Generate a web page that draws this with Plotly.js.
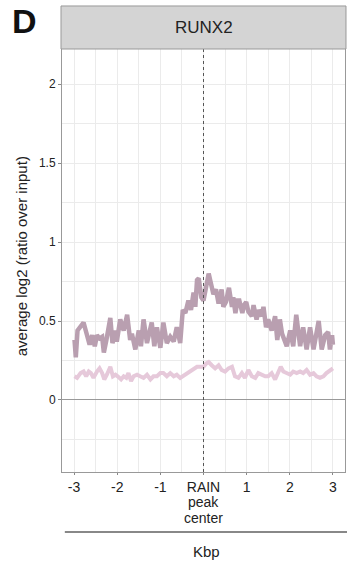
<!DOCTYPE html>
<html><head><meta charset="utf-8">
<script src="https://cdn.plot.ly/plotly-3.0.1.min.js"></script>
<style>html,body{margin:0;padding:0;background:#fff}#c{width:347px;height:563px}</style>
</head><body><div id="c"></div>
<script>
const darkX = [-2.99,-2.96,-2.92,-2.85,-2.78,-2.73,-2.69,-2.64,-2.58,-2.52,-2.47,-2.41,-2.35,-2.31,-2.25,-2.20,-2.16,-2.11,-2.04,-2.01,-1.93,-1.85,-1.77,-1.70,-1.66,-1.58,-1.50,-1.45,-1.39,-1.31,-1.25,-1.20,-1.14,-1.08,-1.00,-0.93,-0.85,-0.77,-0.69,-0.62,-0.54,-0.48,-0.42,-0.35,-0.29,-0.23,-0.19,-0.15,-0.11,-0.05,0.00,0.06,0.12,0.17,0.23,0.29,0.35,0.42,0.46,0.52,0.59,0.66,0.69,0.74,0.79,0.83,0.90,0.94,0.99,1.04,1.12,1.16,1.23,1.28,1.35,1.39,1.45,1.50,1.58,1.66,1.71,1.77,1.82,1.93,2.01,2.08,2.15,2.24,2.31,2.39,2.47,2.55,2.62,2.67,2.74,2.82,2.89,2.93,2.98,3.00];
const darkY = [0.38,0.27,0.44,0.46,0.49,0.44,0.40,0.35,0.41,0.34,0.41,0.39,0.40,0.30,0.38,0.44,0.52,0.36,0.44,0.37,0.51,0.44,0.54,0.38,0.42,0.32,0.44,0.34,0.51,0.36,0.44,0.49,0.34,0.46,0.33,0.49,0.36,0.40,0.37,0.46,0.36,0.57,0.55,0.63,0.57,0.68,0.59,0.76,0.77,0.65,0.63,0.72,0.80,0.74,0.67,0.70,0.61,0.70,0.59,0.62,0.71,0.59,0.65,0.55,0.63,0.63,0.55,0.60,0.62,0.56,0.53,0.60,0.51,0.57,0.53,0.59,0.46,0.51,0.44,0.53,0.38,0.51,0.42,0.34,0.44,0.34,0.54,0.34,0.46,0.32,0.46,0.32,0.41,0.50,0.32,0.41,0.43,0.32,0.41,0.35];
const lightX = [-2.99,-2.93,-2.85,-2.78,-2.72,-2.66,-2.61,-2.55,-2.47,-2.41,-2.35,-2.30,-2.24,-2.16,-2.10,-2.04,-1.99,-1.91,-1.85,-1.79,-1.74,-1.68,-1.62,-1.54,-1.47,-1.39,-1.31,-1.23,-1.16,-1.08,-1.00,-0.93,-0.85,-0.77,-0.69,-0.62,-0.54,-0.48,-0.39,-0.31,-0.23,-0.15,-0.08,0.00,0.06,0.12,0.19,0.27,0.35,0.42,0.50,0.58,0.66,0.73,0.81,0.89,0.96,1.04,1.12,1.20,1.27,1.35,1.43,1.50,1.58,1.66,1.74,1.79,1.85,1.93,2.01,2.08,2.16,2.24,2.31,2.39,2.47,2.55,2.62,2.70,2.78,2.85,2.93,3.00];
const lightY = [0.15,0.14,0.17,0.18,0.15,0.18,0.17,0.14,0.18,0.20,0.17,0.13,0.16,0.21,0.15,0.16,0.15,0.13,0.15,0.14,0.17,0.12,0.15,0.16,0.15,0.14,0.16,0.13,0.15,0.15,0.17,0.17,0.15,0.17,0.15,0.16,0.14,0.15,0.17,0.18,0.19,0.21,0.21,0.21,0.23,0.24,0.22,0.20,0.22,0.19,0.18,0.20,0.21,0.15,0.14,0.17,0.14,0.19,0.15,0.14,0.17,0.16,0.15,0.15,0.17,0.13,0.19,0.21,0.18,0.17,0.16,0.18,0.17,0.18,0.17,0.19,0.16,0.17,0.15,0.14,0.15,0.17,0.19,0.20];
const xTickVals = [-3,-2,-1,0,1,2,3];
const xTickText = ['-3','-2','-1','RAIN','1','2','3'];
const centerLabelLines = ['peak','center'];
const yTickVals = [0,0.5,1,1.5,2];
const yTickText = ['0','0.5','1','1.5','2'];

const F = 'Liberation Sans, Arial, sans-serif';
const grid = '#ebebeb';
const traces = [
  {x: lightX, y: lightY, mode:'lines', line:{color:'#e6c9da', width:4}, hoverinfo:'skip'},
  {x: darkX, y: darkY, mode:'lines', line:{color:'#b99fb0', width:4.5}, hoverinfo:'skip'}
];
const layout = {
  width:347, height:563, showlegend:false,
  paper_bgcolor:'#fff', plot_bgcolor:'#fff',
  margin:{l:62, r:2, t:49, b:91},
  font:{family:F, color:'#333'},
  xaxis:{range:[-3.28,3.28], tickvals:xTickVals, ticktext:xTickText, ticks:'outside', ticklen:2, tickcolor:'#888',
    tickfont:{size:14, color:'#222', family:F}, showgrid:true, gridcolor:grid, gridwidth:1, zeroline:false,
    showline:true, linecolor:'#999', linewidth:1, mirror:true,
    minor:{tickvals:[-2.5,-1.5,-0.5,0.5,1.5,2.5], showgrid:true, gridcolor:grid, gridwidth:1}},
  yaxis:{range:[-0.456,2.222], tickvals:yTickVals, ticktext:yTickText, ticks:'outside', ticklen:3, tickcolor:'#888',
    tickfont:{size:12, color:'#222', family:F}, showgrid:true, gridcolor:grid, gridwidth:1,
    zeroline:true, zerolinecolor:'#999', zerolinewidth:1,
    showline:true, linecolor:'#999', linewidth:1, mirror:true,
    minor:{tickvals:[-0.25,0.25,0.75,1.25,1.75], showgrid:true, gridcolor:grid, gridwidth:1}},
  shapes:[
    {type:'line', xref:'x', yref:'paper', x0:0, x1:0, y0:0, y1:1, line:{color:'#555', width:1, dash:'dot'}},
    {type:'rect', xref:'paper', yref:'paper', x0:-0.0035, x1:1.0035, y0:1, y1:1.1017, fillcolor:'#d4d4d4', line:{color:'#999', width:1}},
    {type:'line', xref:'paper', yref:'paper', x0:0.01, x1:1.01, y0:-0.1418, y1:-0.1418, line:{color:'#888', width:2}}
  ],
  annotations:[
    {text:centerLabelLines[0], xref:'x', yref:'paper', x:0, y:-0.0709, showarrow:false, xanchor:'center', yanchor:'middle', font:{size:14, color:'#222', family:F}},
    {text:centerLabelLines[1], xref:'x', yref:'paper', x:0, y:-0.1087, showarrow:false, xanchor:'center', yanchor:'middle', font:{size:14, color:'#222', family:F}},
    {text:'RUNX2', xref:'paper', yref:'paper', x:0.5, y:1.0508, showarrow:false, xanchor:'center', yanchor:'middle', font:{size:17, color:'#222', family:F}},
    {text:'average log2 (ratio over input)', xref:'paper', yref:'paper', x:-0.145, y:0.51, showarrow:false, xanchor:'center', yanchor:'middle', textangle:-90, font:{size:15, color:'#222', family:F}},
    {text:'Kbp', xref:'paper', yref:'paper', x:0.51, y:-0.1891, showarrow:false, xanchor:'center', yanchor:'middle', font:{size:15, color:'#222', family:F}},
    {text:'<b>D</b>', xref:'paper', yref:'paper', x:-0.134, y:1.066, showarrow:false, xanchor:'center', yanchor:'middle', font:{size:34, color:'#111', family:F}}
  ]
};
Plotly.newPlot('c', traces, layout, {staticPlot:true, displayModeBar:false});
</script></body></html>
